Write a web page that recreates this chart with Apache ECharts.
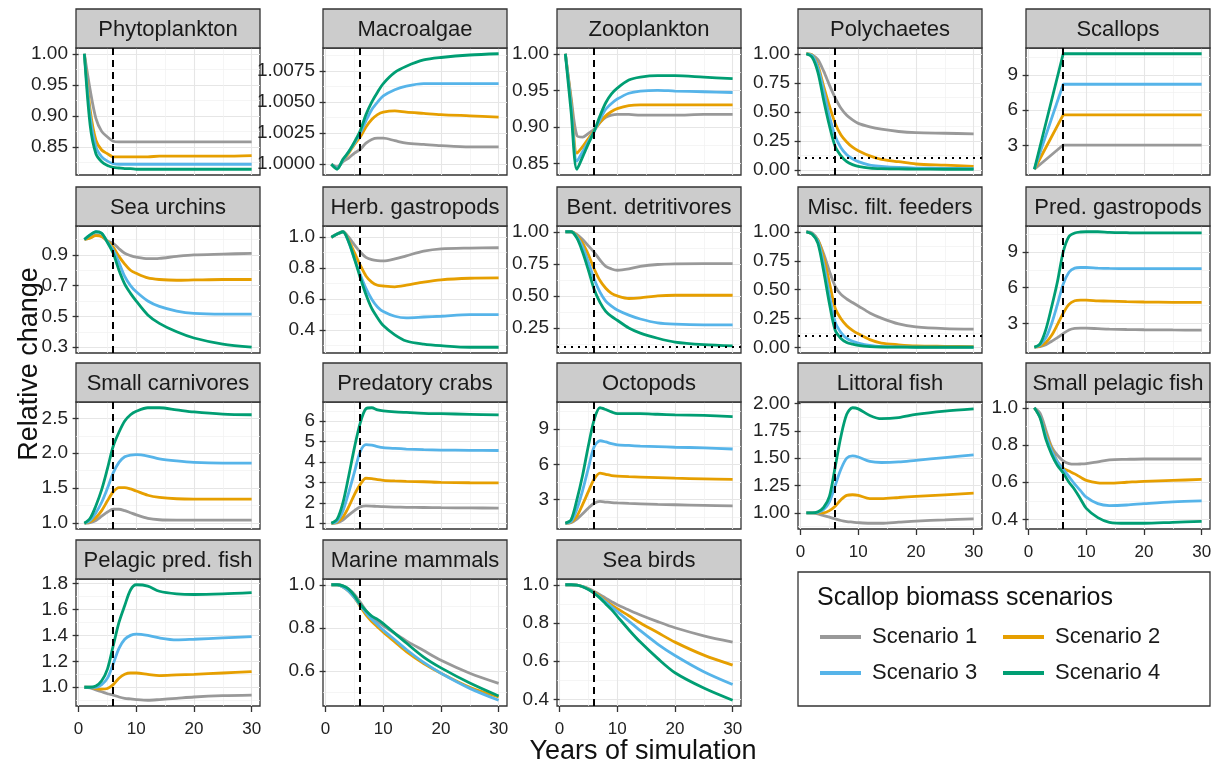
<!DOCTYPE html>
<html><head><meta charset="utf-8">
<script src="https://cdn.jsdelivr.net/npm/echarts@6/dist/echarts.min.js"></script>
<style>html,body{margin:0;padding:0;background:#fff}#c{width:1217px;height:767px}</style>
</head><body><div id="c"></div>
<script>
// ---------------- DATA ----------------
const YEARS = [1,2,3,4,5,6,7,8,9,10,12,14,17,20,25,30];
const SCENARIOS = ['Scenario 1','Scenario 2','Scenario 3','Scenario 4'];
const GROUPS = ['Phytoplankton','Macroalgae','Zooplankton','Polychaetes','Scallops',
  'Sea urchins','Herb. gastropods','Bent. detritivores','Misc. filt. feeders','Pred. gastropods',
  'Small carnivores','Predatory crabs','Octopods','Littoral fish','Small pelagic fish',
  'Pelagic pred. fish','Marine mammals','Sea birds'];

// each group: [Scenario 1, Scenario 2, Scenario 3, Scenario 4], values at YEARS
const phytoplankton = [
  [1.0,0.942,0.896,0.875,0.866,0.859,0.858,0.858,0.858,0.858,0.858,0.858,0.858,0.858,0.858,0.858],
  [1.0,0.91,0.861,0.845,0.839,0.834,0.834,0.834,0.834,0.834,0.834,0.835,0.835,0.835,0.835,0.836],
  [1.0,0.90,0.85,0.834,0.827,0.823,0.822,0.822,0.822,0.822,0.822,0.822,0.822,0.822,0.822,0.822],
  [1.0,0.885,0.839,0.826,0.82,0.817,0.816,0.815,0.815,0.814,0.814,0.814,0.814,0.814,0.814,0.814]];
const macroalgae = [
  [1.0,0.9998,1.0002,1.0005,1.0009,1.0012,1.0017,1.0020,1.0021,1.0021,1.0019,1.0017,1.0016,1.0015,1.0014,1.0014],
  [1.0,0.9997,1.0003,1.0009,1.0016,1.0022,1.0030,1.0036,1.0040,1.0042,1.0043,1.0042,1.0041,1.0040,1.0039,1.0038],
  [1.0,0.9997,1.0003,1.0010,1.0017,1.0025,1.0035,1.0044,1.0050,1.0055,1.0060,1.0063,1.0065,1.0065,1.0065,1.0065],
  [1.0,0.9996,1.0004,1.0010,1.0018,1.0027,1.0040,1.0050,1.0058,1.0065,1.0074,1.0079,1.0084,1.0086,1.0088,1.0089]];
const zooplankton = [
  [1.0,0.94,0.888,0.886,0.891,0.897,0.906,0.913,0.916,0.917,0.917,0.916,0.916,0.916,0.917,0.917],
  [1.0,0.935,0.864,0.873,0.884,0.895,0.906,0.915,0.921,0.925,0.929,0.930,0.930,0.930,0.930,0.930],
  [1.0,0.93,0.853,0.866,0.880,0.894,0.910,0.924,0.932,0.938,0.946,0.949,0.950,0.949,0.948,0.947],
  [1.0,0.92,0.842,0.859,0.877,0.894,0.915,0.933,0.945,0.953,0.964,0.968,0.970,0.970,0.968,0.966]];
const polychaetes = [
  [1.0,0.99,0.95,0.85,0.73,0.62,0.53,0.47,0.43,0.40,0.37,0.35,0.33,0.32,0.315,0.31],
  [1.0,0.99,0.90,0.72,0.55,0.40,0.30,0.24,0.195,0.165,0.12,0.09,0.07,0.05,0.04,0.03],
  [1.0,0.985,0.88,0.68,0.46,0.29,0.19,0.13,0.095,0.07,0.04,0.03,0.02,0.015,0.012,0.01],
  [1.0,0.97,0.84,0.60,0.38,0.20,0.12,0.07,0.045,0.03,0.015,0.01,0.008,0.006,0.005,0.005]];
const scallops = [
  [1,null,null,null,null,3.05,3.05,3.05,3.05,3.05,3.05,3.05,3.05,3.05,3.05,3.05],
  [1,null,null,null,null,5.6,5.6,5.6,5.6,5.6,5.6,5.6,5.6,5.6,5.6,5.6],
  [1,null,null,null,null,8.2,8.2,8.2,8.2,8.2,8.2,8.2,8.2,8.2,8.2,8.2],
  [1,null,null,null,null,10.78,10.78,10.78,10.78,10.78,10.78,10.78,10.78,10.78,10.78,10.78]];
const seaUrchins = [
  [1.0,1.01,1.03,1.02,0.99,0.975,0.94,0.91,0.895,0.885,0.875,0.877,0.89,0.90,0.905,0.91],
  [1.0,1.01,1.025,1.02,0.99,0.95,0.89,0.84,0.80,0.78,0.75,0.74,0.735,0.737,0.74,0.74],
  [1.0,1.03,1.05,1.04,0.985,0.93,0.85,0.76,0.70,0.66,0.60,0.565,0.535,0.52,0.515,0.515],
  [1.0,1.03,1.05,1.04,0.98,0.91,0.80,0.71,0.65,0.60,0.51,0.455,0.40,0.36,0.32,0.30]];
const herbGastropods = [
  [1.0,1.02,1.035,1.0,0.95,0.905,0.87,0.855,0.849,0.847,0.86,0.88,0.91,0.925,0.93,0.932],
  [1.0,1.02,1.035,0.98,0.90,0.82,0.75,0.71,0.69,0.685,0.68,0.69,0.71,0.725,0.735,0.737],
  [1.0,1.02,1.035,0.97,0.86,0.76,0.67,0.60,0.55,0.52,0.49,0.48,0.485,0.49,0.50,0.50],
  [1.0,1.02,1.035,0.97,0.86,0.74,0.63,0.54,0.48,0.43,0.37,0.33,0.31,0.30,0.29,0.29]];
const bentDetritivores = [
  [1.0,1.0,0.98,0.94,0.89,0.84,0.78,0.73,0.71,0.70,0.71,0.73,0.745,0.75,0.752,0.752],
  [1.0,1.0,0.97,0.91,0.82,0.71,0.62,0.56,0.52,0.50,0.48,0.485,0.50,0.505,0.505,0.505],
  [1.0,1.0,0.96,0.88,0.76,0.63,0.53,0.46,0.42,0.39,0.35,0.32,0.29,0.28,0.275,0.275],
  [1.0,1.0,0.95,0.84,0.70,0.55,0.45,0.38,0.34,0.31,0.25,0.21,0.17,0.14,0.12,0.11]];
const miscFiltFeeders = [
  [1.0,0.99,0.93,0.81,0.66,0.53,0.46,0.42,0.39,0.36,0.30,0.255,0.205,0.18,0.165,0.16],
  [1.0,0.98,0.93,0.78,0.56,0.34,0.25,0.19,0.15,0.12,0.07,0.04,0.025,0.015,0.012,0.01],
  [1.0,0.98,0.92,0.72,0.45,0.22,0.13,0.08,0.055,0.04,0.02,0.01,0.007,0.005,0.005,0.005],
  [1.0,0.98,0.90,0.66,0.38,0.15,0.08,0.045,0.03,0.02,0.01,0.006,0.005,0.004,0.004,0.004]];
const predGastropods = [
  [1.0,1.05,1.2,1.5,1.8,2.15,2.45,2.58,2.6,2.6,2.56,2.52,2.49,2.47,2.45,2.44],
  [1.0,1.1,1.4,2.0,2.9,3.85,4.6,4.9,4.95,4.95,4.9,4.87,4.83,4.8,4.77,4.76],
  [1.0,1.2,1.8,3.0,4.6,6.3,7.3,7.65,7.7,7.7,7.65,7.62,7.6,7.6,7.6,7.6],
  [1.0,1.3,2.5,4.4,6.5,9.0,10.3,10.6,10.68,10.7,10.7,10.65,10.62,10.6,10.6,10.6]];
const smallCarnivores = [
  [1.0,1.01,1.04,1.10,1.16,1.20,1.20,1.18,1.15,1.12,1.07,1.05,1.045,1.045,1.045,1.045],
  [1.0,1.02,1.08,1.18,1.32,1.45,1.51,1.51,1.49,1.46,1.40,1.37,1.35,1.345,1.345,1.345],
  [1.0,1.04,1.15,1.3,1.5,1.72,1.87,1.95,1.975,1.98,1.96,1.92,1.89,1.87,1.86,1.86],
  [1.0,1.07,1.25,1.48,1.78,2.1,2.3,2.46,2.55,2.6,2.65,2.65,2.62,2.59,2.56,2.55]];
const predatoryCrabs = [
  [1.0,1.02,1.15,1.4,1.62,1.8,1.85,1.84,1.82,1.81,1.79,1.78,1.77,1.76,1.75,1.74],
  [1.0,1.05,1.3,1.8,2.4,2.9,3.2,3.18,3.13,3.1,3.07,3.05,3.03,3.0,2.98,2.97],
  [1.0,1.1,1.6,2.5,3.5,4.5,4.85,4.82,4.75,4.7,4.66,4.63,4.6,4.58,4.57,4.56],
  [1.0,1.2,2.0,3.3,4.7,5.9,6.6,6.65,6.55,6.5,6.45,6.42,6.38,6.36,6.33,6.3]];
const octopods = [
  [1.0,1.05,1.35,1.8,2.3,2.7,2.85,2.8,2.75,2.72,2.68,2.65,2.6,2.57,2.52,2.47],
  [1.0,1.1,1.6,2.6,3.7,4.75,5.25,5.15,5.05,5.0,4.95,4.92,4.87,4.82,4.77,4.72],
  [1.0,1.15,2.2,3.8,5.7,7.5,8.0,7.9,7.75,7.65,7.6,7.55,7.5,7.45,7.4,7.3],
  [1.0,1.3,3.0,5.1,7.6,9.8,10.8,10.65,10.45,10.3,10.3,10.3,10.25,10.2,10.15,10.05]];
const littoralFish = [
  [1.0,1.0,0.99,0.975,0.96,0.945,0.93,0.92,0.915,0.91,0.905,0.905,0.915,0.925,0.935,0.945],
  [1.0,1.0,1.0,1.0,1.02,1.06,1.12,1.16,1.165,1.16,1.13,1.13,1.14,1.15,1.165,1.18],
  [1.0,1.0,1.005,1.03,1.1,1.25,1.4,1.5,1.52,1.51,1.47,1.46,1.465,1.48,1.505,1.53],
  [1.0,1.0,1.01,1.05,1.15,1.42,1.7,1.9,1.96,1.95,1.89,1.86,1.87,1.9,1.93,1.95]];
const smallPelagicFish = [
  [1.0,0.97,0.88,0.79,0.745,0.715,0.70,0.697,0.698,0.70,0.71,0.72,0.723,0.725,0.725,0.725],
  [1.0,0.95,0.86,0.78,0.71,0.675,0.66,0.645,0.627,0.61,0.597,0.595,0.60,0.605,0.61,0.615],
  [1.0,0.95,0.85,0.77,0.71,0.67,0.63,0.59,0.555,0.52,0.485,0.475,0.478,0.485,0.495,0.50],
  [1.0,0.945,0.83,0.75,0.69,0.65,0.60,0.56,0.51,0.46,0.41,0.385,0.38,0.38,0.385,0.39]];
const pelagicPredFish = [
  [1.0,0.995,0.98,0.965,0.95,0.94,0.925,0.915,0.91,0.905,0.90,0.905,0.915,0.925,0.935,0.94],
  [1.0,1.0,0.99,0.985,0.99,1.02,1.07,1.10,1.11,1.11,1.10,1.09,1.095,1.10,1.11,1.12],
  [1.0,1.0,1.0,1.02,1.07,1.18,1.3,1.37,1.40,1.41,1.40,1.38,1.365,1.37,1.38,1.39],
  [1.0,1.0,1.01,1.05,1.14,1.32,1.5,1.63,1.75,1.79,1.78,1.74,1.72,1.715,1.72,1.73]];
const marineMammals = [
  [1.0,1.0,0.995,0.98,0.955,0.92,0.88,0.85,0.83,0.81,0.775,0.74,0.695,0.65,0.59,0.543],
  [1.0,1.0,0.99,0.97,0.94,0.90,0.86,0.83,0.805,0.78,0.735,0.69,0.635,0.59,0.525,0.48],
  [1.0,1.0,0.99,0.97,0.94,0.905,0.87,0.84,0.815,0.79,0.745,0.70,0.64,0.59,0.52,0.465],
  [1.0,1.0,0.995,0.98,0.95,0.91,0.88,0.855,0.84,0.82,0.775,0.73,0.665,0.615,0.545,0.485]];
const seaBirds = [
  [1.0,1.0,0.998,0.99,0.98,0.965,0.948,0.93,0.912,0.895,0.868,0.842,0.807,0.775,0.733,0.70],
  [1.0,1.0,0.998,0.99,0.978,0.96,0.94,0.915,0.895,0.875,0.838,0.80,0.75,0.70,0.632,0.58],
  [1.0,1.0,0.998,0.99,0.976,0.958,0.935,0.91,0.885,0.86,0.81,0.76,0.69,0.63,0.545,0.478],
  [1.0,1.0,0.998,0.99,0.975,0.955,0.93,0.90,0.87,0.835,0.765,0.70,0.615,0.54,0.46,0.396]];

const GROUP_VALUES = [phytoplankton, macroalgae, zooplankton, polychaetes, scallops,
  seaUrchins, herbGastropods, bentDetritivores, miscFiltFeeders, predGastropods,
  smallCarnivores, predatoryCrabs, octopods, littoralFish, smallPelagicFish,
  pelagicPredFish, marineMammals, seaBirds];

// y tick labels per group
const Y_TICK_LABELS = [
  ['0.85','0.90','0.95','1.00'],
  ['1.0000','1.0025','1.0050','1.0075'],
  ['0.85','0.90','0.95','1.00'],
  ['0.00','0.25','0.50','0.75','1.00'],
  ['3','6','9'],
  ['0.3','0.5','0.7','0.9'],
  ['0.4','0.6','0.8','1.0'],
  ['0.25','0.50','0.75','1.00'],
  ['0.00','0.25','0.50','0.75','1.00'],
  ['3','6','9'],
  ['1.0','1.5','2.0','2.5'],
  ['1','2','3','4','5','6'],
  ['3','6','9'],
  ['1.00','1.25','1.50','1.75','2.00'],
  ['0.4','0.6','0.8','1.0'],
  ['1.0','1.2','1.4','1.6','1.8'],
  ['0.6','0.8','1.0'],
  ['0.4','0.6','0.8','1.0']];
const X_TICK_LABELS = ['0','10','20','30'];
const VLINE_YEAR = 6;
const HLINE_GROUPS = ['Polychaetes','Bent. detritivores','Misc. filt. feeders'];
const HLINE_VALUE = 0.1;

// ---------------- STYLE / LAYOUT ----------------
const COLORS = ['#999999','#E69F00','#56B4E9','#009E73'];
const FONT = '"Liberation Sans", Arial, Helvetica, sans-serif';
const COL_LEFT = [76, 323, 557, 798, 1026];
const ROW_TOP = [48, 226, 402, 579];
const PW = 184, PH = 127, STRIP_H = 39;
const XMIN = -0.45, XMAX = 31.45;

function midpoints(ticks, lo, hi) {
  const step = ticks.length > 1 ? ticks[1] - ticks[0] : 1;
  const out = [];
  for (let v = ticks[0] - step / 2; v <= hi; v += step) if (v >= lo) out.push(+v.toFixed(8));
  return out;
}

const grids = [], xAxes = [], yAxes = [], series = [], graphics = [];
GROUPS.forEach((name, i) => {
  const row = Math.floor(i / 5), col = i % 5;
  const left = COL_LEFT[col], top = ROW_TOP[row];
  const bottomPanel = row === 3 || (row === 2 && col >= 3);
  const vals = GROUP_VALUES[i];
  const hasH = HLINE_GROUPS.includes(name);
  let all = [].concat(...vals).filter(v => v !== null);
  if (hasH) all.push(HLINE_VALUE);
  const dmin = Math.min(...all), dmax = Math.max(...all);
  const pad = (dmax - dmin) * 0.05;
  const ymin = dmin - pad, ymax = dmax + pad;
  const yt = Y_TICK_LABELS[i].map(Number);
  const xt = X_TICK_LABELS.map(Number);

  grids.push({left, top, width: PW, height: PH, show: true, containLabel: false,
    backgroundColor: '#fff', borderColor: '#333', borderWidth: 1.3});

  xAxes.push({gridIndex: i, type: 'value', min: XMIN, max: XMAX, position: 'bottom',
    axisLine: {show: false},
    axisTick: {show: bottomPanel, customValues: xt, length: 6, lineStyle: {color: '#333', width: 1.3}},
    axisLabel: {show: bottomPanel, customValues: xt, margin: 8, padding: [7, 0, 0, 0], fontSize: 17, color: '#222',
      fontFamily: '"Liberation Sans Narrow", ' + FONT, formatter: v => X_TICK_LABELS[xt.indexOf(v)]},
    splitLine: {show: true, lineStyle: {color: '#e6e6e6', width: 1.1}}});
  xAxes.push({gridIndex: i, type: 'value', min: XMIN, max: XMAX, position: 'bottom',
    axisLine: {show: false}, axisLabel: {show: false},
    axisTick: {show: false, customValues: [5, 15, 25]},
    splitLine: {show: true, lineStyle: {color: '#f1f1f1', width: 0.7}}});
  yAxes.push({gridIndex: i, type: 'value', min: ymin, max: ymax, position: 'left',
    axisLine: {show: false},
    axisTick: {show: true, customValues: yt, length: 6, lineStyle: {color: '#333', width: 1.3}},
    axisLabel: {show: true, customValues: yt, margin: 8, fontSize: 19, color: '#222', fontFamily: FONT,
      formatter: v => { const k = yt.findIndex(t => Math.abs(t - v) < 1e-9); return k >= 0 ? Y_TICK_LABELS[i][k] : ''; }},
    splitLine: {show: true, lineStyle: {color: '#e6e6e6', width: 1.1}}});
  yAxes.push({gridIndex: i, type: 'value', min: ymin, max: ymax, position: 'left',
    axisLine: {show: false}, axisLabel: {show: false},
    axisTick: {show: false, customValues: midpoints(yt, ymin, ymax)},
    splitLine: {show: true, lineStyle: {color: '#f1f1f1', width: 0.7}}});

  vals.forEach((arr, k) => {
    const data = YEARS.map((yr, j) => [yr, arr[j]]).filter(p => p[1] !== null);
    const s = {type: 'line', name: SCENARIOS[k], xAxisIndex: 2 * i, yAxisIndex: 2 * i,
      data, showSymbol: false, symbol: 'none', smooth: name === 'Scallops' ? false : 0.3,
      color: COLORS[k], itemStyle: {color: COLORS[k]},
      lineStyle: {color: COLORS[k], width: 2.8}, silent: true, z: 3};
    if (k === 3) {
      const md = [{xAxis: VLINE_YEAR, lineStyle: {type: [7, 5], color: '#000', width: 2}}];
      if (hasH) md.push({yAxis: HLINE_VALUE, lineStyle: {type: [2, 5], color: '#000', width: 2}});
      s.markLine = {silent: true, symbol: 'none', label: {show: false}, animation: false, data: md};
    }
    series.push(s);
  });

  graphics.push({type: 'rect', shape: {x: left, y: top - STRIP_H, width: PW, height: STRIP_H},
    style: {fill: '#cccccc', stroke: '#333', lineWidth: 1.3}, z: 1});
  graphics.push({type: 'text', x: left + PW / 2, y: top - STRIP_H / 2 + 1,
    style: {text: name, fontSize: 22, fontFamily: FONT, fill: '#1a1a1a', align: 'center', verticalAlign: 'middle'}, z: 2});
});

graphics.push({type: 'text', x: 30, y: 364, rotation: Math.PI / 2,
  style: {text: 'Relative change', fontSize: 27, fontFamily: FONT, fill: '#111', align: 'center', verticalAlign: 'middle'}});
graphics.push({type: 'text', x: 643, y: 752,
  style: {text: 'Years of simulation', fontSize: 27, fontFamily: FONT, fill: '#111', align: 'center', verticalAlign: 'middle'}});
graphics.push({type: 'rect', shape: {x: 798, y: 572, width: 412, height: 134},
  style: {fill: '#fff', stroke: '#333', lineWidth: 1.3}, z: 0});
graphics.push({type: 'text', x: 817, y: 598,
  style: {text: 'Scallop biomass scenarios', fontSize: 25, fontFamily: FONT, fill: '#111', align: 'left', verticalAlign: 'middle'}, z: 1});

const legendBase = {orient: 'vertical', top: 626, padding: 0, itemGap: 14, itemWidth: 41, itemHeight: 4,
  icon: 'rect', selectedMode: false,
  textStyle: {fontSize: 22, fontFamily: FONT, color: '#1a1a1a', padding: [0, 0, 0, 6]}};

const option = {
  animation: false,
  backgroundColor: '#fff',
  grid: grids, xAxis: xAxes, yAxis: yAxes, series,
  legend: [
    Object.assign({}, legendBase, {left: 820, data: [SCENARIOS[0], SCENARIOS[2]]}),
    Object.assign({}, legendBase, {left: 1003, data: [SCENARIOS[1], SCENARIOS[3]]})],
  graphic: {elements: graphics}
};
const chart = echarts.init(document.getElementById('c'), null, {renderer: 'canvas'});
chart.setOption(option);
</script></body></html>
